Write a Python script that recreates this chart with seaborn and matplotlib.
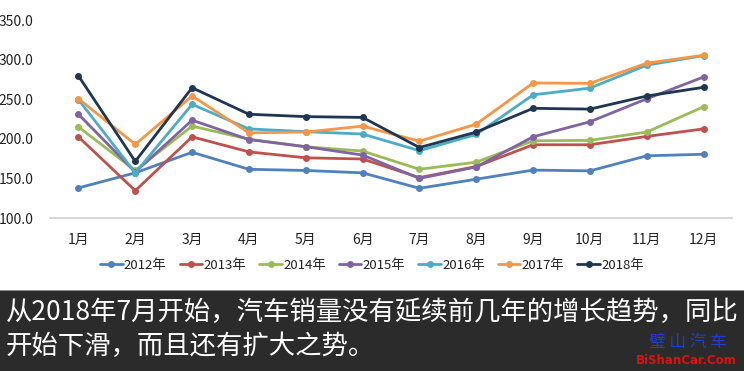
import matplotlib
matplotlib.use("Agg")
import matplotlib.pyplot as plt
import seaborn as sns
import pandas as pd
from matplotlib.patches import Rectangle

months = ["1月", "2月", "3月", "4月", "5月", "6月", "7月", "8月", "9月", "10月", "11月", "12月"]
years = ["2012年", "2013年", "2014年", "2015年", "2016年", "2017年", "2018年"]

v2012 = [138, 157, 183, 161.5, 160, 157, 137.5, 149, 160.5, 159.5, 178.5, 180.5]
v2013 = [202.5, 134.5, 202.5, 183.5, 176, 174.5, 151, 165, 192.5, 192.5, 203, 212.5]
v2014 = [215, 160, 216, 199.5, 190, 184.5, 161.5, 170.5, 197.5, 198, 208.5, 240.5]
v2015 = [231, 158, 223.5, 199, 190, 179.5, 150, 164.5, 202.5, 221.5, 250.5, 278]
v2016 = [249.5, 157, 243.5, 212.5, 209, 206, 185, 205.5, 255.5, 264, 293, 305]
v2017 = [250.5, 193, 254, 207.5, 208.5, 216, 197, 218.5, 270.5, 270, 295.5, 305.5]
v2018 = [279.5, 171.5, 264.5, 231, 228, 227, 189, 208.5, 238.5, 237.5, 254, 265]

colors = ["#4F81BD", "#C0504D", "#9BBB59", "#8064A2", "#4BACC6", "#F79646", "#1F3552"]
y_ticks = [100, 150, 200, 250, 300, 350]

series = [v2012, v2013, v2014, v2015, v2016, v2017, v2018]
rows = []
for yr, vals in zip(years, series):
    for m, v in zip(months, vals):
        rows.append({"month": m, "value": v, "year": yr})
df = pd.DataFrame(rows)

sns.set_theme(style="white")
plt.rcParams['font.family'] = ['Noto Sans CJK SC', 'DejaVu Sans']

fig = plt.figure(figsize=(7.44, 3.71), dpi=100)
W, H = 744, 371
ax = fig.add_axes([50 / W, (H - 218) / H, (732 - 50) / W, (218 - 20) / H])

sns.lineplot(data=df, x="month", y="value", hue="year", palette=colors,
             hue_order=years, sort=False, marker="o", markersize=5,
             markeredgewidth=0, linewidth=2.0, ax=ax)

ax.set_xlim(-0.5, 11.5)
ax.set_ylim(100, 350)
ax.set_yticks(y_ticks)
ax.set_yticklabels([f"{t:.1f}" for t in y_ticks], fontsize=10, color="#222222")
ax.set_xticks(range(len(months)))
ax.set_xticklabels(months, fontsize=10, color="#222222")
ax.tick_params(axis="y", length=0, pad=12)
ax.tick_params(axis="x", length=0, pad=11)
ax.set_xlabel("")
ax.set_ylabel("")
for s in ["top", "right", "left"]:
    ax.spines[s].set_visible(False)
ax.spines["bottom"].set_color("#D0D0D0")
ax.spines["bottom"].set_linewidth(1.2)
ax.grid(False)

leg = ax.legend(loc="center", bbox_to_anchor=(372 / W, (H - 265) / H),
                bbox_transform=fig.transFigure, ncol=7, frameon=False,
                fontsize=9.5, handlelength=1.7, handletextpad=0.1,
                columnspacing=1.0)
for t in leg.get_texts():
    t.set_color("#222222")

# dark caption band
fig.patches.append(Rectangle((0, 0), 1, (H - 290) / H, transform=fig.transFigure,
                             facecolor="#2B2B2B", edgecolor="none", zorder=0))
fig.patches.append(Rectangle((0, (H - 291) / H), 1, 1.5 / H, transform=fig.transFigure,
                             facecolor="#8A8A8A", edgecolor="none", zorder=1))

fig.text(6 / W, (H - 312) / H, "从2018年7月开始，汽车销量没有延续前几年的增长趋势，同比",
         fontsize=19, color="white", va="center", ha="left")
fig.text(6 / W, (H - 346) / H, "开始下滑，而且还有扩大之势。",
         fontsize=19, color="white", va="center", ha="left")

fig.text(688 / W, (H - 342) / H, "璧 山 汽 车", fontsize=12, color="#1E3FD0",
         va="center", ha="center", style="italic")
fig.text(686 / W, (H - 361) / H, "BiShanCar.Com", fontsize=8.5, color="#E01010",
         va="center", ha="center", fontweight="bold", family=["DejaVu Sans"])

fig.savefig("out.png", dpi=100)
